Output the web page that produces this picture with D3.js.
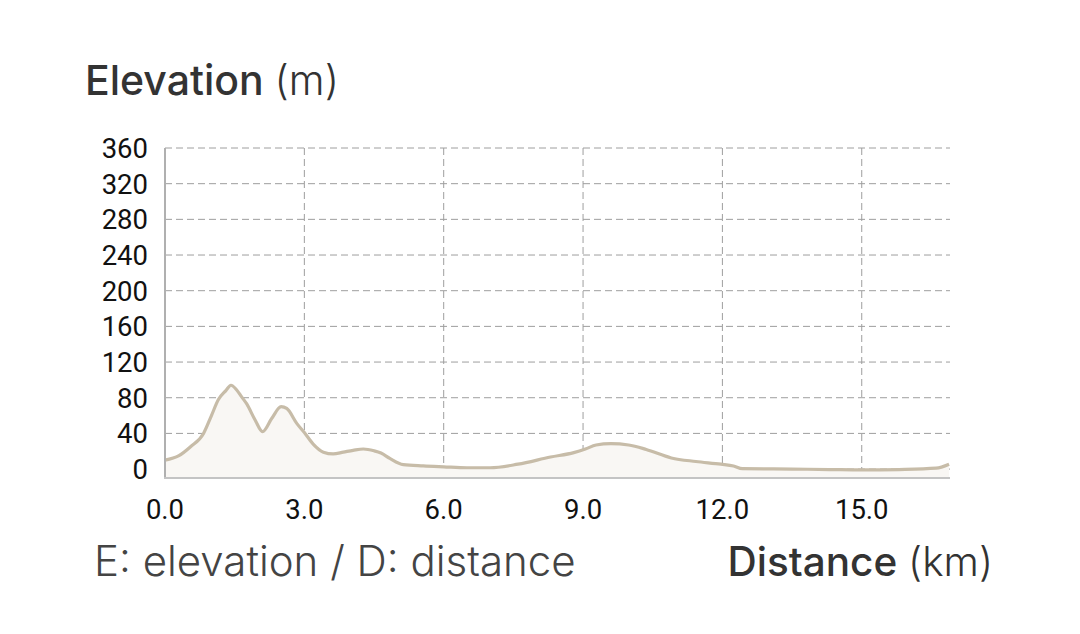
<!DOCTYPE html>
<html>
<head>
<meta charset="utf-8">
<script src="https://cdn.jsdelivr.net/npm/d3@7"></script>
<style>
  body { margin: 0; background: #fff; }
  text { font-family: Roboto, "Noto Sans", sans-serif; }
  .label { font-family: Inter, Roboto, sans-serif; }
</style>
</head>
<body>
<svg id="chart" width="1080" height="634"></svg>
<script>
// Elevation profile
const distanceKm = [0.0, 0.3, 0.55, 0.83, 1.0, 1.15, 1.31, 1.42, 1.54, 1.65, 1.76, 1.94, 2.1,
  2.3, 2.5, 2.62, 2.84, 3.0, 3.19, 3.41, 3.62, 3.84, 4.05, 4.27, 4.5, 4.65, 4.84, 5.13,
  5.56, 6.0, 6.5, 7.0, 7.6, 8.3, 8.8, 9.05, 9.28, 9.6, 9.98, 10.36, 10.9, 11.43, 11.97,
  12.24, 12.43, 13.5, 14.3, 15.0, 15.8, 16.6, 16.88];
const elevationM = [10, 15, 25, 40, 60, 78, 88, 94, 89, 81, 73, 55, 42,
  57, 70, 68, 51, 41, 28, 19, 17, 19, 21, 22.5, 20.5, 18, 12, 5,
  3.5, 2.5, 1.5, 1.5, 5.5, 13.5, 18.5, 22.5, 27, 28.5, 27, 22, 12.5, 8.5, 5.5,
  3.5, 0.5, 0, -0.5, -1, -0.5, 1, 5.5];
const yTicks = [0, 40, 80, 120, 160, 200, 240, 280, 320, 360];
const xTicks = [0, 3, 6, 9, 12, 15];

const svg = d3.select("#chart");

const x = d3.scaleLinear().domain([0, 16.9]).range([165, 950]);
const y = d3.scaleLinear().domain([-10, 360]).range([478, 148]);

const points = distanceKm.map((d, i) => [d, elevationM[i]]);

// grid lines
svg.append("g")
  .selectAll("line")
  .data(yTicks)
  .enter().append("line")
    .attr("x1", x.range()[0])
    .attr("x2", x.range()[1])
    .attr("y1", d => y(d))
    .attr("y2", d => y(d))
    .attr("stroke", "#9e9e9e")
    .attr("stroke-width", 1)
    .attr("stroke-dasharray", "7,4");

svg.append("g")
  .selectAll("line")
  .data(xTicks.slice(1))
  .enter().append("line")
    .attr("x1", d => x(d))
    .attr("x2", d => x(d))
    .attr("y1", y.range()[1])
    .attr("y2", y.range()[0])
    .attr("stroke", "#9e9e9e")
    .attr("stroke-width", 1)
    .attr("stroke-dasharray", "7,4");

// area + line
const area = d3.area()
  .x(d => x(d[0]))
  .y0(y(-10))
  .y1(d => y(d[1]))
  .curve(d3.curveMonotoneX);

const line = d3.line()
  .x(d => x(d[0]))
  .y(d => y(d[1]))
  .curve(d3.curveMonotoneX);

svg.append("path")
  .datum(points)
  .attr("d", area)
  .attr("fill", "#f9f7f4");

svg.append("path")
  .datum(points)
  .attr("d", line)
  .attr("fill", "none")
  .attr("stroke", "#c7bca8")
  .attr("stroke-width", 3.2)
  .attr("stroke-linejoin", "round");

// axis lines
svg.append("line")
  .attr("x1", x.range()[0]).attr("x2", x.range()[0])
  .attr("y1", y.range()[1]).attr("y2", y.range()[0])
  .attr("stroke", "#b0b0b0")
  .attr("stroke-width", 2);

svg.append("line")
  .attr("x1", x.range()[0] - 1).attr("x2", x.range()[1])
  .attr("y1", y.range()[0]).attr("y2", y.range()[0])
  .attr("stroke", "#c4c4c4")
  .attr("stroke-width", 2);

// tick labels
svg.append("g")
  .selectAll("text")
  .data(yTicks)
  .enter().append("text")
    .attr("x", 148)
    .attr("y", d => y(d))
    .attr("dy", "0.36em")
    .attr("text-anchor", "end")
    .attr("font-size", 27.5)
    .attr("fill", "#111")
    .text(d => d);

svg.append("g")
  .selectAll("text")
  .data(xTicks)
  .enter().append("text")
    .attr("x", d => x(d))
    .attr("y", 519)
    .attr("text-anchor", "middle")
    .attr("font-size", 27.5)
    .attr("fill", "#111")
    .text(d => d3.format(".1f")(d));

// titles
const title = svg.append("text")
  .attr("class", "label")
  .attr("x", 85)
  .attr("y", 95)
  .attr("font-size", 41)
  .attr("fill", "#333");
title.append("tspan").attr("font-weight", 500).text("Elevation ");
title.append("tspan").attr("font-weight", 300).text("(m)");

svg.append("text")
  .attr("class", "label")
  .attr("x", 94)
  .attr("y", 576)
  .attr("font-size", 42)
  .attr("font-weight", 300)
  .attr("fill", "#444")
  .text("E: elevation / D: distance");

const xTitle = svg.append("text")
  .attr("class", "label")
  .attr("x", 993)
  .attr("y", 576)
  .attr("text-anchor", "end")
  .attr("font-size", 40.5)
  .attr("fill", "#333");
xTitle.append("tspan").attr("font-weight", 500).text("Distance ");
xTitle.append("tspan").attr("font-weight", 300).text("(km)");
</script>
</body>
</html>
